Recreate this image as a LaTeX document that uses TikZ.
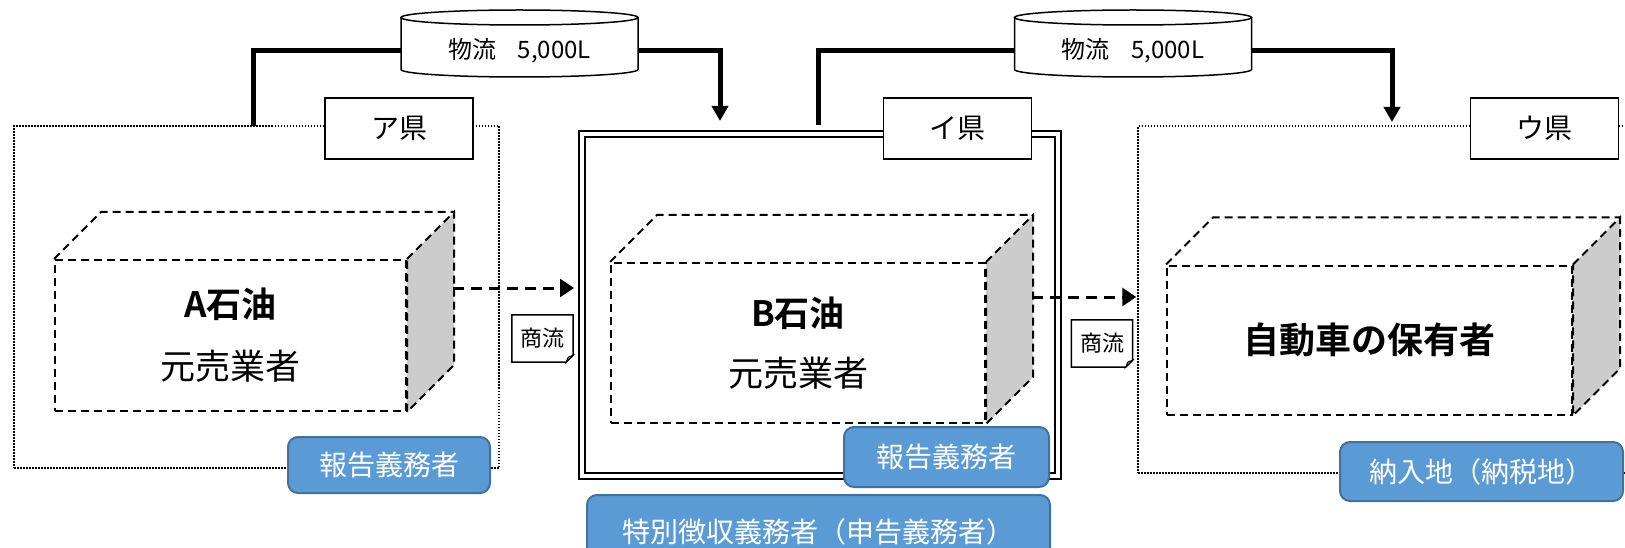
\documentclass[tikz,border=0pt]{standalone}
\usepackage{fontspec}
\setmainfont{Noto Sans CJK JP}[BoldFont={Noto Sans CJK JP Bold}]
\usetikzlibrary{arrows.meta,calc}
\definecolor{tagblue}{HTML}{5B9BD5}
\definecolor{tagedge}{HTML}{41719C}
\tikzset{zone/.style={draw,line width=1.5pt,dash pattern=on 1.5pt off 1.5pt,inner sep=0pt},
  pref/.style={draw,fill=white,line width=1.5pt,minimum width=148pt,minimum height=61pt,inner sep=0pt,font=\fontsize{28}{30}\selectfont},
  facet/.style={line width=2pt,dash pattern=on 8pt off 5pt},
  cube/.style={draw,facet,inner sep=0pt,align=center},
  drum/.style={line width=1.5pt},
  flow/.style={line width=5pt},
  trade/.style={line width=3pt,dash pattern=on 11pt off 7pt,-{Triangle[width=18pt,length=14pt]}},
  duty/.style={draw=tagedge,fill=tagblue,line width=2pt,rounded corners=10pt,text=white,inner sep=0pt,font=\fontsize{28}{30}\selectfont},
  slip/.style={inner sep=0pt,minimum width=61pt,minimum height=47pt,font=\fontsize{22}{24}\selectfont}}
\begin{document}
\begin{tikzpicture}[x=1pt,y=-1pt]
\useasboundingbox (0,0) rectangle (1625,548);
\clip (0,0) rectangle (1625,548);
% prefectures
\node[zone,minimum width=485pt,minimum height=342pt] (regA) at (256.5,297) {};
\node[draw,line width=2pt,double,double distance=4pt,minimum width=476pt,minimum height=342pt,inner sep=0pt] (regB) at (820,305) {};
\node[zone,minimum width=492pt,minimum height=347pt] (regC) at (1384,299.5) {};
% physical flow
\node[minimum width=237pt,minimum height=52pt,inner sep=0pt,font=\fontsize{24}{26}\selectfont] (ship1) at (519.5,51) {物流\hspace{0.9em}5,000L};
\node[minimum width=237pt,minimum height=52pt,inner sep=0pt,font=\fontsize{24}{26}\selectfont] (ship2) at (1133,51) {物流\hspace{0.9em}5,000L};
\coordinate (upA) at (253,126);
\coordinate (downB) at (720,121);
\coordinate (upB) at (818,125);
\coordinate (downC) at (1392,122);
\draw[flow] (upA) |- (ship1.west);
\draw[flow,-{Triangle[width=16pt,length=15pt]}] (ship1.east) -| (downB);
\draw[flow] (upB) |- (ship2.west);
\draw[flow,-{Triangle[width=16pt,length=15pt]}] (ship2.east) -| (downC);
\foreach \cx in {519.5,1133}{
  \draw[drum] (\cx,17.5) ellipse[x radius=118.5,y radius=7.5];
  \draw[drum] (\cx-118.5,17.5) -- (\cx-118.5,69.5) arc[start angle=180,end angle=0,x radius=118.5,y radius=7.5] -- (\cx+118.5,17.5);}
\node[pref] (prefA) at (399,128.5) {ア県};
\node[pref] (prefB) at (957.5,128.5) {イ県};
\node[pref] (prefC) at (1544.5,128.5) {ウ県};
% firms
\node[cube,minimum width=351pt,minimum height=151pt,font=\fontsize{35}{62}\selectfont] (firmA) at (230.5,335.5) {{\bfseries A石油}\\元売業者};
\node[cube,minimum width=374pt,minimum height=160pt,font=\fontsize{35}{60}\selectfont] (firmB) at (798,343) {{\bfseries B石油}\\元売業者};
\node[cube,minimum width=405pt,minimum height=149pt,font=\bfseries\fontsize{36}{40}\selectfont] (firmC) at (1369.5,340) {自動車の保有者};
\foreach \f in {firmA,firmB,firmC}{
  \draw[facet,fill=gray!40] (\f.north east) -- ++(47pt,47pt) |- ($(\f.south east)+(47pt,47pt)$) -- (\f.south east) -- cycle;
  \draw[facet] (\f.north west) -- ++(47pt,47pt) -- ($(\f.north east)+(47pt,47pt)$);}
% commercial flow
\coordinate (outA) at (453,288);
\coordinate (outB) at (1032,297);
\draw[trade,shorten >=7pt] (outA) -- (outA -| regB.west);
\draw[trade,shorten >=1pt] (outB) -- (outB -| regC.west);
\node[slip] (deal1) at (542.5,338.5) {商流};
\node[slip] (deal2) at (1102,343.5) {商流};
\foreach \d in {deal1,deal2}{
  \draw[line width=1.5pt] (\d.north west) -- (\d.north east) -- ($(\d.south east)+(0pt,7pt)$) -- ($(\d.south east)+(-7pt,0pt)$) -- (\d.south west) -- cycle;
  \draw[line width=1pt,fill=gray!30] ($(\d.south east)+(0pt,7pt)$) -- ($(\d.south east)+(-7pt,0pt)$) -- ($(\d.south east)+(-5pt,5pt)$) -- cycle;}
% duties
\node[duty,minimum width=202pt,minimum height=56pt] (rep1) at (389,465) {報告義務者};
\node[duty,minimum width=205pt,minimum height=60pt] (rep2) at (946.5,457) {報告義務者};
\node[duty,minimum width=463pt,minimum height=74pt] (coll) at (818.5,532) {特別徴収義務者（申告義務者）};
\node[duty,minimum width=283pt,minimum height=59pt] (dest) at (1481.5,471.5) {納入地（納税地）};
\end{tikzpicture}
\end{document}
